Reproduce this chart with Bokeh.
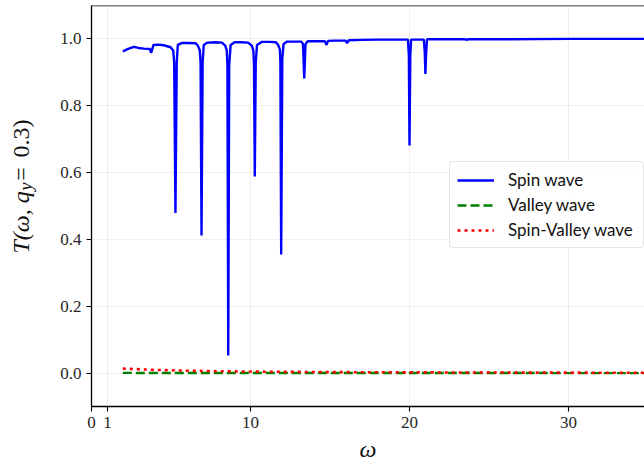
import math
from bokeh.plotting import figure
from bokeh.layouts import row
from bokeh.models import Range1d, FixedTicker, Label, Span
from bokeh.embed import file_html
from bokeh.resources import INLINE

# ---------------- data ----------------
spin_omega = [1.97, 2.3, 2.66, 2.96, 3.3, 3.67, 3.75, 3.9, 4.2, 4.55, 4.97, 5.14, 5.2,
              5.28, 5.36, 5.43, 5.7, 6.1, 6.55, 6.69, 6.81, 6.86,
              6.92, 6.99, 7.06, 7.3, 7.8, 8.2, 8.41, 8.51, 8.55,
              8.6, 8.66, 8.75, 9.0, 9.4, 9.85, 10.08, 10.18, 10.22,
              10.27, 10.33, 10.41, 10.7, 11.2, 11.6, 11.74, 11.85, 11.88,
              11.93, 12.0, 12.08, 12.3, 12.8, 13.2, 13.3,
              13.38, 13.46, 13.6, 14.2, 14.68,
              14.78, 14.88, 15.3, 15.98,
              16.08, 16.18, 17.0, 18.0, 19.0, 19.9, 19.96,
              20.0, 20.05, 20.1, 20.9, 20.96,
              21.0, 21.05, 21.1, 23.5, 23.6, 23.7, 26.0, 30.0, 35.0]
spin_T = [0.963, 0.970, 0.976, 0.973, 0.971, 0.970, 0.958, 0.982, 0.983, 0.981, 0.975, 0.965, 0.93,
          0.479, 0.93, 0.982, 0.988, 0.988, 0.987, 0.980, 0.966, 0.93,
          0.412, 0.93, 0.982, 0.989, 0.990, 0.989, 0.980, 0.966, 0.92,
          0.053, 0.92, 0.982, 0.990, 0.990, 0.989, 0.980, 0.966, 0.92,
          0.588, 0.93, 0.982, 0.991, 0.991, 0.990, 0.982, 0.968, 0.93,
          0.355, 0.94, 0.985, 0.992, 0.992, 0.992, 0.985,
          0.882, 0.985, 0.993, 0.993, 0.993,
          0.982, 0.994, 0.995, 0.995,
          0.987, 0.996, 0.997, 0.998, 0.998, 0.998, 0.95,
          0.681, 0.95, 0.998, 0.998, 0.96,
          0.895, 0.96, 0.999, 0.999, 0.997, 0.999, 0.999, 1.0, 1.0]

valley_omega = [1.97, 5.0, 10.0, 15.0, 20.0, 25.0, 30.0, 35.0]
valley_T = [0.0005, 0.0004, 0.0003, 0.0002, 0.0001, 0.0001, 0.0, 0.0]

sv_omega = [1.97, 4.0, 6.0, 8.0, 10.0, 14.0, 18.0, 25.0, 35.0]
sv_T = [0.0134, 0.0095, 0.0072, 0.0056, 0.0045, 0.0032, 0.0024, 0.0016, 0.0010]

x_ticks = [0, 1, 10, 20, 30]
x_tick_labels = ["0", "1", "10", "20", "30"]
y_ticks = [0.0, 0.2, 0.4, 0.6, 0.8, 1.0]
y_tick_labels = ["0.0", "0.2", "0.4", "0.6", "0.8", "1.0"]

# y-axis label pieces: text, italic?, font size
ylabel_parts = [("T(ω, q", True, "24px"), ("y", True, "18px"), ("=", False, "24px"), ("0.3)", False, "24px")]

SERIF = "Liberation Serif"
LABEL_W = 50

# ---------------- y-label strip (its own frame, so text is not clipped) ----------------
lf = figure(width=LABEL_W, height=464, output_backend="svg", toolbar_location=None,
            x_range=Range1d(0, LABEL_W), y_range=Range1d(464, 0),
            x_axis_type=None, y_axis_type=None, min_border=0)
lf.outline_line_color = None
lf.background_fill_color = "white"
lf.border_fill_color = "white"
lf.grid.visible = False

# (baseline x px, anchor y px from top, alignment) for each piece
part_pos = [(20, 215, "right"), (25, 214, "left"), (20, 195, "center"), (20, 132, "right")]
for (txt, ital, size), (bx, by, al) in zip(ylabel_parts, part_pos):
    lab = Label(x=bx, y=by, text=txt, text_font=SERIF, text_font_size=size,
                angle=math.pi / 2, text_align=al, text_baseline="alphabetic",
                text_color="#111111")
    if ital:
        lab.text_font_style = "italic"
    lf.add_layout(lab)

# ---------------- main figure ----------------
p = figure(width=644 - LABEL_W, height=464, output_backend="svg", toolbar_location=None,
           x_range=Range1d(0, 34.78), y_range=Range1d(-0.1, 1.1),
           min_border_left=91 - LABEL_W, min_border_right=0, min_border_top=5,
           min_border_bottom=58)
p.outline_line_color = None
p.background_fill_color = "white"
p.border_fill_color = "white"

for ax, ticks, labels in ((p.xaxis[0], x_ticks, x_tick_labels), (p.yaxis[0], y_ticks, y_tick_labels)):
    ax.ticker = FixedTicker(ticks=ticks)
    ax.major_label_overrides = {t: l for t, l in zip(ticks, labels)}
    ax.major_label_text_font = SERIF
    ax.major_label_text_font_size = "17px"
    ax.major_label_text_color = "#262626"
    ax.axis_line_color = "black"
    ax.axis_line_width = 1.3
    ax.major_tick_line_color = "black"
    ax.major_tick_line_width = 1.1
    ax.major_tick_out = 5
    ax.major_tick_in = 0
    ax.minor_tick_line_color = None
    ax.major_label_standoff = 5

xa = p.xaxis[0]
xa.axis_label = "ω"
xa.axis_label_text_font = SERIF
xa.axis_label_text_font_style = "italic"
xa.axis_label_text_font_size = "24px"
xa.axis_label_text_color = "#111111"
xa.axis_label_standoff = 5

p.xgrid.ticker = FixedTicker(ticks=x_ticks)
p.ygrid.ticker = FixedTicker(ticks=y_ticks)
for g in (p.xgrid[0], p.ygrid[0]):
    g.grid_line_color = "#b0b0b0"
    g.grid_line_alpha = 0.25
    g.grid_line_width = 0.8

# top spine
p.add_layout(Span(location=1.1, dimension="width", line_color="black", line_width=1.3))

p.line(spin_omega, spin_T, line_color="#0000ff", line_width=2.4, legend_label="Spin wave")
p.line(valley_omega, valley_T, line_color="#008000", line_width=2.4, line_dash="9 4",
       legend_label="Valley wave")
p.line(sv_omega, sv_T, line_color="#ff0000", line_width=2.6, line_dash="3 4",
       legend_label="Spin-Valley wave")

leg = p.legend[0]
leg.location = (358, 158)
leg.padding = 7
leg.spacing = 4
leg.margin = 0
leg.label_height = 20
leg.glyph_height = 20
leg.glyph_width = 37
leg.label_standoff = 14
leg.label_width = 128
leg.border_line_color = "#cccccc"
leg.border_line_width = 1
leg.background_fill_alpha = 0.85
leg.label_text_font = "Lato"
leg.label_text_font_size = "17px"
leg.label_text_color = "#111111"
if "border_radius" in leg.properties():
    leg.border_radius = 4

layout = row(lf, p, spacing=0)
open("out.html", "w").write(file_html(layout, INLINE))
